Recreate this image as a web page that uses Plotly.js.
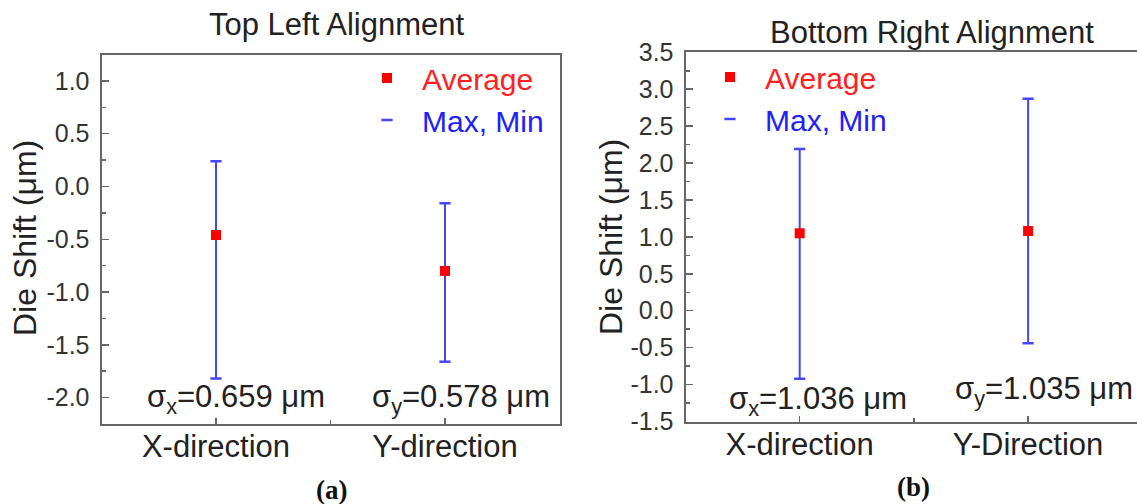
<!DOCTYPE html>
<html>
<head>
<meta charset="utf-8">
<script src="https://cdn.plot.ly/plotly-3.0.1.min.js"></script>
<style>html,body{margin:0;padding:0;background:#fff;}#chart{width:1137px;height:504px;}</style>
</head>
<body>
<div id="chart"></div>
<script>
// ---- data ----
const catPos = [1, 2];
const leftCategories = ['X-direction', 'Y-direction'];
const rightCategories = ['X-direction', 'Y-Direction'];
const leftAvg = [-0.46, -0.80];
const leftMax = [0.24, -0.16];
const leftMin = [-1.82, -1.66];
const rightAvg = [1.05, 1.08];
const rightMax = [2.19, 2.87];
const rightMin = [-0.92, -0.44];
const leftYTicks = [-2.0, -1.5, -1.0, -0.5, 0.0, 0.5, 1.0];
const rightYTicks = [-1.5, -1.0, -0.5, 0.0, 0.5, 1.0, 1.5, 2.0, 2.5, 3.0, 3.5];
const leftSigma = ['σ<sub>x</sub>=0.659 μm', 'σ<sub>y</sub>=0.578 μm'];
const rightSigma = ['σ<sub>x</sub>=1.036 μm', 'σ<sub>y</sub>=1.035 μm'];
const titles = ['Top Left Alignment', 'Bottom Right Alignment'];
const panelLabels = ['(a)', '(b)'];
const yTitle = 'Die Shift (μm)';
const legendNames = ['Average', 'Max, Min'];

// ---- layout helpers ----
const W = 1137, H = 504;
const px = x => x / W;
const py = y => 1 - y / H;
const FONT = 'Liberation Sans, Arial, sans-serif';
const RED = '#ff0000', BLUE = '#4646ff';
const AXC = '#666666';

function traces(avg, mx, mn, xa, ya, leg) {
  return [
    {
      x: catPos, y: avg, xaxis: xa, yaxis: ya, legend: leg,
      type: 'scatter', mode: 'markers',
      name: '<span style="color:#ff2020">' + legendNames[0] + '</span>',
      marker: {symbol: 'square', size: 10, color: RED},
      error_y: {
        type: 'data', symmetric: false,
        array: mx.map((v, i) => v - avg[i]),
        arrayminus: mn.map((v, i) => avg[i] - v),
        color: BLUE, thickness: 2, width: 0
      },
      hoverinfo: 'y'
    },
    {
      x: catPos.concat(catPos), y: mx.concat(mn), xaxis: xa, yaxis: ya, legend: leg,
      type: 'scatter', mode: 'markers',
      name: '<span style="color:#2020ff">' + legendNames[1] + '</span>',
      marker: {symbol: 'line-ew', size: 8, color: BLUE, line: {color: BLUE, width: 2.5}},
      hoverinfo: 'y'
    }
  ];
}

const data = [].concat(
  traces(leftAvg, leftMax, leftMin, 'x', 'y', 'legend'),
  traces(rightAvg, rightMax, rightMin, 'x2', 'y2', 'legend2')
);

function xaxis(domain, range, labels) {
  return {
    domain: domain, range: range,
    tickmode: 'array', tickvals: catPos, ticktext: labels,
    ticks: 'inside', ticklen: 6, tickwidth: 1.5, tickcolor: AXC,
    minor: {tickmode: 'array', tickvals: [1.5], ticks: 'inside', ticklen: 4, tickcolor: AXC},
    showline: true, linecolor: AXC, linewidth: 2, mirror: true,
    showgrid: false, zeroline: false,
    tickfont: {family: FONT, size: 31, color: '#222'},
    ticklabelstandoff: -6, fixedrange: true
  };
}
function yaxis(domain, range, ticks, mirror) {
  return {
    domain: domain, range: range,
    tickmode: 'array', tickvals: ticks, ticktext: ticks.map(v => v.toFixed(1)),
    ticks: 'inside', ticklen: 7, tickwidth: 1.5, tickcolor: AXC,
    minor: {tickmode: 'linear', tick0: 0, dtick: 0.25, ticks: 'inside', ticklen: 4, tickcolor: AXC},
    showline: true, linecolor: AXC, linewidth: 2, mirror: mirror,
    showgrid: false, zeroline: false,
    tickfont: {family: FONT, size: 25, color: '#333'},
    ticklabelstandoff: 5, fixedrange: true
  };
}

const xa1 = xaxis([px(101.5), px(559.5)], [0.5, 2.5], leftCategories); xa1.anchor = 'y';
const ya1 = yaxis([py(424), py(54.5)], [-2.25, 1.25], leftYTicks, true); ya1.anchor = 'x';
const xa2 = xaxis([px(685.5), 1], [0.5, 0.5 + (1137 - 685.5) / 228.4], rightCategories); xa2.anchor = 'y2';
const ya2 = yaxis([py(421.5), py(52.3)], [-1.5, 3.5], rightYTicks, false); ya2.anchor = 'x2';

function ann(text, x, y, opts) {
  return Object.assign({
    text: text, xref: 'paper', yref: 'paper', x: px(x), y: py(y),
    xanchor: 'center', yanchor: 'middle', showarrow: false,
    font: {family: FONT, size: 31, color: '#222'}
  }, opts || {});
}

const annotations = [
  ann(titles[0], 336, 24, {font: {family: FONT, size: 31, color: '#222'}}),
  ann(titles[1], 932, 32, {font: {family: FONT, size: 31, color: '#222'}}),
  ann(yTitle, 25, 238, {textangle: -90, font: {family: FONT, size: 32, color: '#222'}}),
  ann(yTitle, 611, 237, {textangle: -90, font: {family: FONT, size: 32, color: '#222'}}),
  ann(leftSigma[0], 145, 399, {xanchor: 'left'}),
  ann(leftSigma[1], 370, 399, {xanchor: 'left'}),
  ann(rightSigma[0], 727, 401, {xanchor: 'left'}),
  ann(rightSigma[1], 953, 391, {xanchor: 'left'}),
  ann('<b>' + panelLabels[0] + '</b>', 331, 490, {font: {family: 'Liberation Serif, Times New Roman, serif', size: 27, color: '#111'}}),
  ann('<b>' + panelLabels[1] + '</b>', 913, 487, {font: {family: 'Liberation Serif, Times New Roman, serif', size: 27, color: '#111'}})
];

const legendBase = {
  xanchor: 'left', yanchor: 'top', bgcolor: 'rgba(0,0,0,0)', borderwidth: 0,
  font: {family: FONT, size: 30}, itemwidth: 60, tracegroupgap: 0, traceorder: 'normal'
};

const layout = {
  width: W, height: H,
  margin: {l: 0, r: 0, t: 0, b: 0, pad: 0},
  paper_bgcolor: '#fff', plot_bgcolor: '#fff',
  showlegend: true,
  xaxis: xa1, yaxis: ya1, xaxis2: xa2, yaxis2: ya2,
  legend: Object.assign({x: px(352), y: py(52)}, legendBase),
  legend2: Object.assign({x: px(695), y: py(51)}, legendBase),
  annotations: annotations
};

Plotly.newPlot('chart', data, layout, {displayModeBar: false, staticPlot: true});
</script>
</body>
</html>
